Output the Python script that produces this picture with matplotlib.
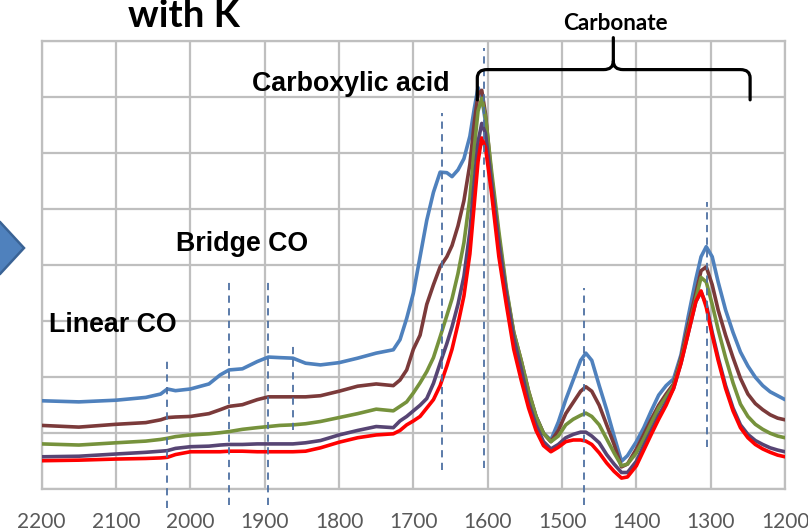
import numpy as np
import matplotlib
matplotlib.use("Agg")
import matplotlib.pyplot as plt
from matplotlib.path import Path
from matplotlib.patches import PathPatch, Polygon

# wavenumber grid (cm-1) shared by all spectra
wavenumber = [2200, 2150, 2100, 2060, 2040, 2031, 2020, 2000, 1975, 1960, 1948, 1930,
              1910, 1895, 1880, 1862, 1845, 1825, 1800, 1775, 1750, 1727, 1718, 1709,
              1700, 1691, 1682, 1673, 1664, 1655, 1648, 1640, 1632, 1624, 1618, 1613,
              1608, 1603, 1595, 1585, 1575, 1565, 1555, 1545, 1535, 1525, 1515, 1505,
              1495, 1485, 1475, 1468, 1460, 1450, 1440, 1430, 1420, 1412, 1400, 1390,
              1380, 1370, 1360, 1350, 1340, 1330, 1320, 1313, 1306, 1298, 1290, 1280,
              1270, 1260, 1250, 1240, 1230, 1220, 1210, 1200]

abs_blue = [1.58, 1.56, 1.59, 1.64, 1.70, 1.79, 1.76, 1.79, 1.88, 2.04, 2.13, 2.15,
            2.28, 2.36, 2.35, 2.34, 2.25, 2.22, 2.26, 2.34, 2.43, 2.49, 2.67, 3.05,
            3.50, 4.15, 4.80, 5.30, 5.66, 5.65, 5.58, 5.70, 5.90, 6.30, 6.80, 7.17,
            7.00, 6.55, 5.40, 4.30, 3.40, 2.60, 2.15, 1.70, 1.30, 1.00, 0.88, 1.20,
            1.60, 1.95, 2.30, 2.43, 2.30, 1.85, 1.42, 0.95, 0.50, 0.60, 0.85, 1.10,
            1.40, 1.68, 1.85, 1.97, 2.40, 3.10, 3.75, 4.15, 4.33, 4.15, 3.70, 3.20,
            2.80, 2.45, 2.20, 2.00, 1.85, 1.74, 1.67, 1.60]

abs_maroon = [1.14, 1.11, 1.16, 1.19, 1.24, 1.28, 1.29, 1.30, 1.35, 1.42, 1.48, 1.51,
              1.60, 1.65, 1.65, 1.65, 1.65, 1.67, 1.75, 1.84, 1.88, 1.85, 1.95, 2.13,
              2.50, 2.75, 3.30, 3.65, 3.97, 4.15, 4.35, 4.70, 5.15, 5.80, 6.55, 7.05,
              7.12, 6.70, 5.60, 4.50, 3.55, 2.80, 2.30, 1.75, 1.30, 1.00, 0.85, 1.05,
              1.35, 1.55, 1.75, 1.83, 1.75, 1.50, 1.15, 0.80, 0.40, 0.45, 0.72, 0.98,
              1.25, 1.50, 1.70, 1.88, 2.35, 2.95, 3.50, 3.90, 3.97, 3.65, 3.20, 2.75,
              2.35, 1.98, 1.70, 1.53, 1.42, 1.33, 1.27, 1.24]

abs_green = [0.81, 0.79, 0.83, 0.86, 0.89, 0.91, 0.94, 0.97, 0.99, 1.01, 1.03, 1.07,
             1.10, 1.12, 1.14, 1.15, 1.17, 1.21, 1.28, 1.35, 1.43, 1.40, 1.48, 1.56,
             1.72, 1.90, 2.10, 2.35, 2.72, 3.10, 3.40, 3.85, 4.40, 5.20, 6.10, 6.75,
             6.98, 6.65, 5.70, 4.60, 3.60, 2.80, 2.30, 1.75, 1.30, 1.00, 0.85, 0.95,
             1.15, 1.25, 1.32, 1.36, 1.30, 1.15, 0.90, 0.65, 0.42, 0.45, 0.65, 0.90,
             1.18, 1.45, 1.65, 1.85, 2.30, 2.85, 3.40, 3.78, 3.70, 3.30, 2.85, 2.35,
             1.90, 1.52, 1.30, 1.16, 1.07, 1.00, 0.95, 0.92]

abs_purple = [0.58, 0.59, 0.63, 0.66, 0.68, 0.69, 0.73, 0.76, 0.77, 0.79, 0.80, 0.80,
              0.81, 0.81, 0.81, 0.81, 0.83, 0.87, 0.97, 1.05, 1.12, 1.10, 1.22, 1.30,
              1.40, 1.50, 1.62, 1.89, 2.25, 2.60, 2.90, 3.30, 3.80, 4.60, 5.50, 6.20,
              6.53, 6.35, 5.50, 4.40, 3.50, 2.70, 2.15, 1.55, 1.15, 0.85, 0.72, 0.80,
              0.92, 0.98, 1.02, 1.02, 0.95, 0.83, 0.62, 0.45, 0.30, 0.30, 0.50, 0.78,
              1.05, 1.32, 1.55, 1.80, 2.25, 2.80, 3.35, 3.52, 3.30, 2.80, 2.35, 1.85,
              1.45, 1.15, 0.98, 0.87, 0.80, 0.74, 0.70, 0.67]

abs_red = [0.51, 0.52, 0.54, 0.55, 0.56, 0.57, 0.62, 0.67, 0.67, 0.67, 0.68, 0.68,
           0.67, 0.67, 0.67, 0.67, 0.68, 0.74, 0.84, 0.92, 0.97, 0.99, 1.05, 1.15,
           1.22, 1.30, 1.45, 1.60, 1.85, 2.20, 2.50, 2.95, 3.45, 4.20, 5.10, 5.85,
           6.27, 6.10, 5.30, 4.15, 3.30, 2.50, 1.95, 1.45, 1.05, 0.78, 0.67, 0.75,
           0.85, 0.88, 0.88, 0.86, 0.80, 0.65, 0.47, 0.32, 0.20, 0.22, 0.42, 0.70,
           0.98, 1.25, 1.50, 1.80, 2.25, 2.80, 3.35, 3.54, 3.25, 2.75, 2.30, 1.80,
           1.40, 1.10, 0.92, 0.80, 0.72, 0.66, 0.61, 0.58]

series = [(abs_blue, "#4F81BD"), (abs_maroon, "#7B3A3A"), (abs_green, "#76923C"),
          (abs_purple, "#574574"), (abs_red, "#FF0000")]

# band markers: position, lower and upper extent
marker_pos = [2031, 1948, 1895, 1862, 1661, 1605, 1470, 1305]
marker_lo = [-0.33, -0.28, -0.28, 1.06, 0.35, 0.38, -0.28, 0.76]
marker_hi = [2.36, 3.74, 3.74, 2.61, 6.72, 7.88, 3.59, 5.13]

xticks = list(range(2200, 1199, -100))

fig = plt.figure(figsize=(8.08, 5.30), dpi=100)
ax = fig.add_axes([0.0516, 0.0768, 0.9200, 0.8458])

grid_c = "#BFBFBF"
ax.set_xlim(2200, 1200)
ax.set_ylim(0, 8)
ax.set_xticks(xticks)
ax.set_yticks(range(0, 9))
ax.grid(True, color=grid_c, lw=1.6, zorder=0)
ax.set_axisbelow(True)
for s in ax.spines.values():
    s.set_color(grid_c)
    s.set_linewidth(1.6)
ax.tick_params(axis="both", length=0)
ax.tick_params(axis="x", pad=16, labelsize=15, labelcolor="#595959")
ax.set_yticklabels([])
for lab in ax.get_xticklabels():
    lab.set_family("Lato")

for vals, c in series:
    ax.plot(wavenumber, vals, color=c, lw=2.6, solid_joinstyle="round",
            solid_capstyle="round", zorder=3)

for xp, lo, hi in zip(marker_pos, marker_lo, marker_hi):
    ax.plot([xp, xp], [lo, hi], color="#4E71A3", lw=1.3, ls=(0, (4, 3)),
            clip_on=False, zorder=4)

# curly bracket over the carbonate region
xl, xm, xr = 1614, 1431, 1247
yb, ybar, ytip = 6.95, 7.49, 8.06
rx, ry = 13, 0.15
verts = [(xl, yb), (xl, ybar - ry), (xl, ybar), (xl - rx, ybar),
         (xm + rx, ybar), (xm, ybar), (xm, ybar + ry), (xm, ytip),
         (xm, ybar + ry), (xm, ybar), (xm - rx, ybar),
         (xr + rx, ybar), (xr, ybar), (xr, ybar - ry), (xr, yb)]
codes = [Path.MOVETO, Path.LINETO, Path.CURVE3, Path.CURVE3,
         Path.LINETO, Path.CURVE3, Path.CURVE3, Path.LINETO,
         Path.MOVETO, Path.CURVE3, Path.CURVE3,
         Path.LINETO, Path.CURVE3, Path.CURVE3, Path.LINETO]
ax.add_patch(PathPatch(Path(verts, codes), fill=False, ec="black", lw=2.3,
                       capstyle="round", joinstyle="round", clip_on=False, zorder=6))

lab_kw = dict(family="Liberation Sans", fontweight="bold", fontsize=19.3,
              ha="center", va="center", zorder=7)
ax.text(1784, 7.24, "Carboxylic acid", **lab_kw)
ax.text(1931, 4.38, "Bridge CO", **lab_kw)
ax.text(2104, 2.93, "Linear CO", **lab_kw)

fig.text(615 / 808, 1 - 23 / 530, "Carbonate", family="Lato", fontweight="bold",
         fontsize=16.2, ha="center", va="center")
fig.text(184 / 808, 1 - 27 / 530, "with K", family="Lato", fontweight="bold",
         fontsize=27.5, ha="center", va="baseline")

# block arrow tip on the left edge
W, H = 808.0, 530.0
tip = [(-10, 222), (0, 222), (24, 248), (0, 274), (-10, 274)]
fig.patches.append(Polygon([(x / W, 1 - y / H) for x, y in tip], closed=True,
                           fc="#4F81BD", ec="#3A6395", lw=1.8,
                           transform=fig.transFigure, figure=fig))

fig.savefig("out.png", dpi=100)
